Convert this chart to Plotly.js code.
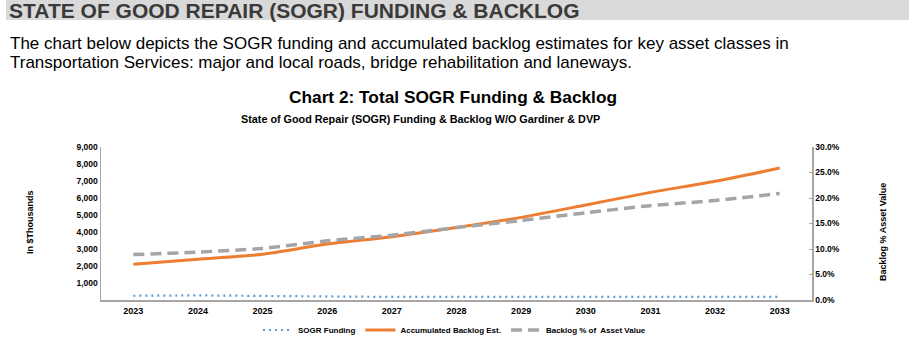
<!DOCTYPE html>
<html>
<head>
<meta charset="utf-8">
<script src="https://cdn.plot.ly/plotly-3.0.1.min.js"></script>
<style>
html,body{margin:0;padding:0;background:#fff;}
#chart{width:918px;height:339px;}
</style>
</head>
<body>
<div id="chart"></div>
<script>
// ---- data ----
const years = ["2023","2024","2025","2026","2027","2028","2029","2030","2031","2032","2033"];
const sogrFunding = [250, 270, 240, 200, 180, 180, 180, 180, 180, 180, 180];
const accumulatedBacklog = [2100, 2400, 2690, 3290, 3720, 4270, 4860, 5590, 6330, 6980, 7760];
const backlogPctAssetValue = [0.089, 0.094, 0.101, 0.116, 0.127, 0.142, 0.156, 0.171, 0.185, 0.195, 0.209];
const leftTicks = [1000, 2000, 3000, 4000, 5000, 6000, 7000, 8000, 9000];
const rightTicks = [0, 0.05, 0.10, 0.15, 0.20, 0.25, 0.30];

const headerText = "STATE OF GOOD REPAIR (SOGR) FUNDING &amp; BACKLOG";
const introLine1 = "The chart below depicts the SOGR funding and accumulated backlog estimates for key asset classes in";
const introLine2 = "Transportation Services: major and local roads, bridge rehabilitation and laneways.";
const chartTitle = "Chart 2: Total SOGR Funding &amp; Backlog";
const chartSubtitle = "State of Good Repair (SOGR) Funding &amp; Backlog W/O Gardiner &amp; DVP";

// ---- layout geometry (pixels) ----
const W = 918, H = 339;
const L = 101, R = 812, T = 147, B = 300;
const pw = R - L, ph = B - T;
const px = x => (x - L) / pw;
const py = y => 1 - (y - T) / ph;

const sans = "Liberation Sans, Arial, sans-serif";

const traces = [
  {
    x: years, y: sogrFunding, name: "SOGR Funding", type: "scatter", mode: "lines",
    line: {color: "#5b9bd5", width: 2.2, dash: "2px,4px"}, yaxis: "y"
  },
  {
    x: years, y: accumulatedBacklog, name: "Accumulated Backlog Est.", type: "scatter", mode: "lines",
    line: {color: "#ed7d31", width: 3, shape: "spline", smoothing: 0.6}, yaxis: "y"
  },
  {
    x: years, y: backlogPctAssetValue, name: "Backlog % of  Asset Value", type: "scatter", mode: "lines",
    line: {color: "#a5a5a5", width: 3.5, dash: "11px,6px", shape: "spline", smoothing: 0.6}, yaxis: "y2"
  }
];

const tickFont = {family: sans, size: 8.5, color: "#000", weight: "bold"};

const layout = {
  width: W, height: H,
  margin: {l: L, r: W - R, t: T, b: H - B, pad: 0, autoexpand: false},
  paper_bgcolor: "#fff", plot_bgcolor: "#fff",
  showlegend: true,
  legend: {
    orientation: "h", x: px(258), y: py(330), xanchor: "left", yanchor: "middle",
    font: {family: sans, size: 8, color: "#000", weight: "bold"},
    bgcolor: "rgba(0,0,0,0)", itemwidth: 30, tracegroupgap: 0
  },
  xaxis: {
    type: "category", range: [-0.5, 10.5], showgrid: false, zeroline: false,
    showline: true, linecolor: "#a6a6a6", linewidth: 1.5, ticks: "", ticklabelstandoff: 2,
    tickfont: {family: sans, size: 9, color: "#000", weight: "bold"}, fixedrange: true
  },
  yaxis: {
    range: [0, 9000], tickvals: leftTicks, tickformat: ",d", showgrid: false, zeroline: false,
    showline: true, linecolor: "#a6a6a6", linewidth: 1.5, ticks: "", ticklen: 0,
    tickfont: tickFont, title: {text: ""}, fixedrange: true
  },
  yaxis2: {
    overlaying: "y", side: "right", range: [0, 0.3], tickvals: rightTicks, tickformat: ".1%",
    showgrid: false, zeroline: false, showline: true, linecolor: "#a6a6a6", linewidth: 1.5,
    ticks: "inside", ticklen: 3, tickcolor: "#a6a6a6", tickfont: tickFont, fixedrange: true
  },
  shapes: [
    {type: "rect", xref: "paper", yref: "paper", x0: px(6), x1: px(909), y0: py(0), y1: py(20),
     fillcolor: "#d9d9d9", line: {width: 0}, layer: "below"}
  ],
  annotations: [
    {text: headerText, xref: "paper", yref: "paper", x: px(7), y: py(10), xanchor: "left", yanchor: "middle",
     showarrow: false, font: {family: sans, size: 21, color: "#3a3a3a", weight: "bold"}},
    {text: introLine1, xref: "paper", yref: "paper", x: px(8), y: py(43), xanchor: "left", yanchor: "middle",
     showarrow: false, font: {family: sans, size: 17, color: "#000"}},
    {text: introLine2, xref: "paper", yref: "paper", x: px(8), y: py(62), xanchor: "left", yanchor: "middle",
     showarrow: false, font: {family: sans, size: 17, color: "#000"}},
    {text: chartTitle, xref: "paper", yref: "paper", x: px(453), y: py(97), xanchor: "center", yanchor: "middle",
     showarrow: false, font: {family: sans, size: 17.3, color: "#000", weight: "bold"}},
    {text: chartSubtitle, xref: "paper", yref: "paper", x: px(420), y: py(119), xanchor: "center", yanchor: "middle",
     showarrow: false, font: {family: sans, size: 10.8, color: "#000", weight: "bold"}},
    {text: "In $Thousands", xref: "paper", yref: "paper", x: px(30), y: py(222), xanchor: "center", yanchor: "middle",
     textangle: -90, showarrow: false, font: {family: sans, size: 9, color: "#000", weight: "bold"}},
    {text: "Backlog % Asset Value", xref: "paper", yref: "paper", x: px(883), y: py(232), xanchor: "center", yanchor: "middle",
     textangle: -90, showarrow: false, font: {family: sans, size: 9, color: "#000", weight: "bold"}}
  ]
};

Plotly.newPlot("chart", traces, layout, {displayModeBar: false, staticPlot: true});
</script>
</body>
</html>
